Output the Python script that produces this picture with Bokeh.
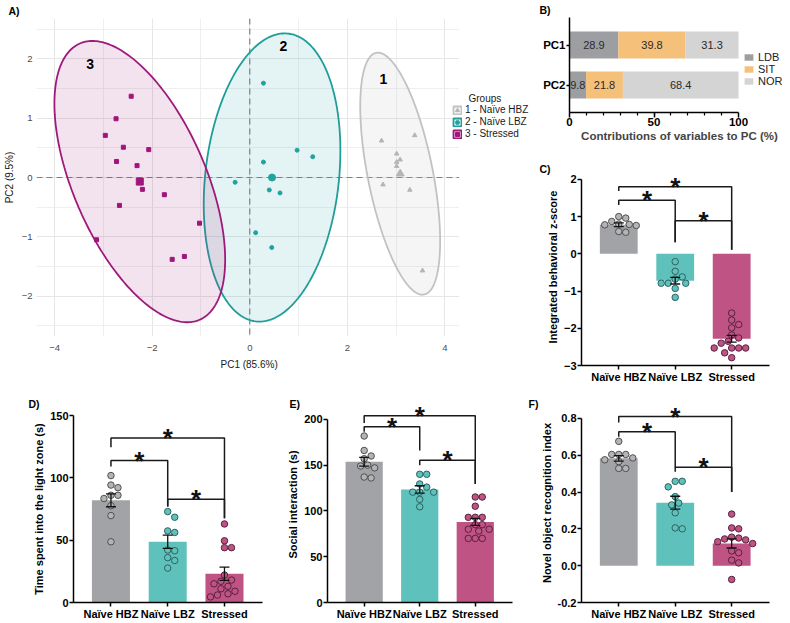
import numpy as np
from bokeh.plotting import figure
from bokeh.models import (Range1d, FixedTicker, Legend, LegendItem, Span, Title, Label,
                          ColumnDataSource, NumeralTickFormatter)
from bokeh.layouts import row, column
from bokeh.embed import file_html
from bokeh.resources import INLINE
from bokeh.core.properties import value

FONT = "Liberation Sans"

# ---------------- Panel A: PCA ----------------
pca_names = ["1 - Naïve HBZ", "2 - Naïve LBZ", "3 - Stressed"]
hbz_pc1 = [2.70, 3.38, 3.01, 3.08, 3.01, 3.01, 2.73, 3.28, 3.54]
hbz_pc2 = [0.62, 0.71, 0.40, 0.30, 0.26, 0.19, -0.12, -0.21, -1.57]
lbz_pc1 = [0.28, 0.97, 1.29, 0.28, -0.30, 0.40, 0.62, 0.12, 0.45]
lbz_pc2 = [1.59, 0.46, 0.35, 0.26, -0.08, -0.21, -0.26, -0.93, -1.18]
str_pc1 = [-2.43, -2.74, -2.96, -2.59, -2.07, -2.73, -2.31, -2.20, -1.75, -2.67, -1.03, -3.14, -1.34, -1.59]
str_pc2 = [1.37, 0.99, 0.71, 0.51, 0.47, 0.27, 0.20, -0.20, -0.29, -0.47, -0.77, -1.05, -1.33, -1.38]
# confidence-ellipse shape (var PC1, var PC2, cov) per group
ell_hbz = [0.67, 4.16, -0.93]
ell_lbz = [1.96, 5.90, 0.63]
ell_str = [3.06, 5.62, -2.30]
group_tag = ["1", "2", "3"]
group_tag_x = [2.74, 0.69, -3.27]
group_tag_y = [1.66, 2.21, 1.92]
pc1_title = "PC1 (85.6%)"
pc2_title = "PC2 (9.5%)"
pc1_lim = (-4.37, 4.29)
pc2_lim = (-2.68, 2.68)

# ---------------- Panel B: contributions ----------------
components = ["PC1", "PC2"]
contrib_vars = ["LDB", "SIT", "NOR"]
ldb = [28.9, 9.8]
sit = [39.8, 21.8]
nor = [31.3, 68.4]

# ---------------- Panels C-F ----------------
groups = ["Naïve HBZ", "Naïve LBZ", "Stressed"]

z_hbz = [1.00, 0.96, 0.87, 0.80, 0.78, 0.76, 0.79, 0.60, 0.58]
z_lbz = [-0.21, -0.47, -0.62, -0.68, -0.79, -0.79, -0.79, -0.93, -1.17]
z_str = [-1.59, -1.78, -1.90, -1.99, -2.18, -2.26, -2.35, -2.40, -2.53, -2.53, -2.53, -2.53, -2.66, -2.79]
z_mean = [0.78, -0.72, -2.28]
z_sem = [0.05, 0.09, 0.09]
z_brackets = [(0, 2, 1.80, 1.69, 0.11), (0, 1, 1.44, 1.31, 0.31), (1, 2, 0.89, 0.31, 0.11)]

light_hbz = [101.8, 94.2, 92.1, 86.0, 86.0, 83.4, 77.6, 69.7, 48.7]
light_lbz = [72.9, 68.4, 57.4, 56.2, 42.1, 41.5, 36.0, 33.7, 27.6]
light_str = [63.0, 49.5, 44.0, 44.0, 22.0, 18.0, 17.0, 15.0, 13.0, 11.0, 9.0, 7.0, 6.0, 4.5]
light_mean = [82.0, 48.7, 23.1]
light_sem = [5.2, 5.3, 5.3]
light_brackets = [(0, 2, 132.0, 124.5, 67.6), (0, 1, 113.9, 109.0, 77.1), (1, 2, 82.9, 77.1, 67.6)]

social_hbz = [181.8, 166.0, 160.0, 157.0, 150.0, 149.0, 147.0, 137.0, 136.0]
social_lbz = [140.0, 140.0, 129.4, 126.0, 120.5, 120.5, 120.5, 112.6, 104.5]
social_str = [115.2, 115.2, 105.1, 93.0, 93.0, 93.0, 85.0, 85.0, 80.0, 80.0, 78.0, 70.0, 70.0, 70.0]
social_mean = [153.7, 123.5, 88.0]
social_sem = [4.8, 4.0, 3.8]
social_brackets = [(0, 2, 204.0, 196.0, 129.4), (0, 1, 191.8, 186.5, 166.0), (1, 2, 155.4, 150.0, 129.4)]

nor_hbz = [0.675, 0.604, 0.604, 0.604, 0.585, 0.575, 0.565, 0.528, 0.528]
nor_lbz = [0.458, 0.458, 0.428, 0.375, 0.34, 0.33, 0.287, 0.205, 0.2]
nor_str = [0.28, 0.205, 0.2, 0.155, 0.15, 0.145, 0.13, 0.12, 0.14, 0.08, 0.07, 0.03, 0.015, -0.075]
nor_mean = [0.583, 0.342, 0.121]
nor_sem = [0.015, 0.035, 0.025]
nor_brackets = [(0, 2, 0.81, 0.777, 0.40), (0, 1, 0.727, 0.70, 0.534), (1, 2, 0.534, 0.51, 0.40)]

# ---------------- styles ----------------
A_LINE = ["#C2C2C2", "#1F9E99", "#9E1A7A"]
A_PT = ["#B5B5B5", "#1FA39D", "#A0157B"]
A_MARK = ["triangle", "circle", "square"]
BAR_COL = ["#A2A3A6", "#5FC1BC", "#BE5384"]
DOT_FILL = ["#B4B4B7", "#5FC1BC", "#BE5384"]
DOT_LINE = ["#505050", "#2C6461", "#5A2140"]
CONTRIB_COL = ["#9D9EA2", "#F5C07A", "#D4D4D4"]


def letter(p, text, offset, standoff, valign):
    p.add_layout(Title(text=text, align="left", offset=offset, standoff=standoff,
                       vertical_align=valign, text_font=FONT, text_font_style="bold",
                       text_font_size="10.5px", text_color="black"), "above")


def ellipse_xy(cx, cy, shape, n=240):
    sxx, syy, sxy = shape
    L = np.linalg.cholesky(np.array([[sxx, sxy], [sxy, syy]]))
    t = np.linspace(0, 2 * np.pi, n)
    e = L @ np.vstack([np.cos(t), np.sin(t)])
    return cx + e[0], cy + e[1]


# ================= Panel A =================
A_W, A_L, A_FW = 538, 32, 426
a_scale = A_FW / (pc1_lim[1] - pc1_lim[0])
a_xend = pc1_lim[0] + (A_W - A_L) / a_scale      # frame also hosts the legend on the right
pA = figure(width=A_W, height=385, x_range=Range1d(pc1_lim[0], a_xend), y_range=Range1d(*pc2_lim),
            min_border_left=A_L, min_border_right=0, min_border_top=18, min_border_bottom=49,
            output_backend="svg", toolbar_location=None, frame_align=False)
pA.outline_line_color = None

pA.xaxis.ticker = FixedTicker(ticks=[-4, -2, 0, 2, 4], minor_ticks=[-3, -1, 1, 3])
pA.yaxis.ticker = FixedTicker(ticks=[-2, -1, 0, 1, 2], minor_ticks=[-2.5, -1.5, -0.5, 0.5, 1.5, 2.5])
pA.xaxis.major_label_overrides = {-4: "−4", -2: "−2", 0: "0", 2: "2", 4: "4"}
pA.yaxis.major_label_overrides = {-2: "−2", -1: "−1", 0: "0", 1: "1", 2: "2"}
pA.xaxis.bounds = pc1_lim
for g in (pA.xgrid, pA.ygrid):
    g.grid_line_color = "#E6E6E6"
    g.grid_line_width = 1
    g.minor_grid_line_color = "#EBEBEB"
    g.minor_grid_line_width = 0.8
for ax in (pA.xaxis, pA.yaxis):
    ax.axis_line_color = None
    ax.major_tick_line_color = None
    ax.minor_tick_line_color = None
    ax.major_tick_out = 0
    ax.major_tick_in = 0
    ax.minor_tick_out = 0
    ax.major_label_text_font = FONT
    ax.major_label_text_font_size = "9.5px"
    ax.major_label_text_color = "#4D4D4D"
    ax.axis_label_text_font = FONT
    ax.axis_label_text_font_size = "10px"
    ax.axis_label_text_font_style = "normal"
    ax.axis_label_text_color = "#1A1A1A"
pA.yaxis.axis_label = pc2_title
pA.xaxis.major_label_standoff = 8
pA.yaxis.major_label_standoff = 4
pA.yaxis.axis_label_standoff = 4
# x title centred under the panel area (not under the legend strip)
pA.add_layout(Title(text=pc1_title, align="left", offset=184, standoff=10, vertical_align="top",
                    text_font=FONT, text_font_size="10px", text_font_style="normal",
                    text_color="#1A1A1A"), "below")

pA.add_layout(Span(location=0, dimension="height", line_color="#808080", line_dash="6 4",
                   line_width=1.2, level="underlay"))
pA.add_layout(Span(location=0, dimension="width", line_color="#808080", line_dash="6 4",
                   line_width=1.2, level="underlay"))
# blank strip right of the panel area (legend zone)
pA.quad(left=[pc1_lim[1]], right=[a_xend], bottom=[pc2_lim[0]], top=[pc2_lim[1]],
        fill_color="white", line_color=None)

pc1_sets = [hbz_pc1, lbz_pc1, str_pc1]
pc2_sets = [hbz_pc2, lbz_pc2, str_pc2]
shapes = [ell_hbz, ell_lbz, ell_str]
fill_alpha = [0.16, 0.12, 0.12]
legend_items = []
for k in range(3):
    x = np.array(pc1_sets[k]); y = np.array(pc2_sets[k])
    cx, cy = x.mean(), y.mean()
    ex, ey = ellipse_xy(cx, cy, shapes[k])
    r_patch = pA.patch(ex, ey, fill_color=A_LINE[k], fill_alpha=fill_alpha[k],
                       line_color=A_LINE[k], line_width=1.8)
    r_pts = pA.scatter(x, y, marker=A_MARK[k], size=4.5 if k == 0 else 4,
                       fill_color=A_PT[k], line_color=A_PT[k])
    pA.scatter([cx], [cy], marker=A_MARK[k], size=8 if k == 0 else 7,
               fill_color=A_PT[k], line_color=A_PT[k])
    legend_items.append(LegendItem(label=pca_names[k], renderers=[r_patch, r_pts]))

pA.text(x=group_tag_x, y=group_tag_y, text=group_tag, text_font=value(FONT), text_font_style="bold",
        text_font_size="14px", text_align="center", text_baseline="middle", text_color="black")

legA = Legend(items=legend_items, location=(416, 197), padding=0, margin=0, spacing=1,
              glyph_width=10, glyph_height=10, label_height=10, label_standoff=3,
              label_text_font=FONT, label_text_font_size="10px", label_text_color="#1A1A1A",
              border_line_color=None, background_fill_alpha=0)
pA.add_layout(legA)
pA.add_layout(Label(x=432, y=238, x_units="screen", y_units="screen", text="Groups",
                    text_font=FONT, text_font_size="10px", text_color="#1A1A1A",
                    text_baseline="middle", text_align="left"))
letter(pA, "A)", -28, 0, "top")

# ================= Panel B =================
B_W, B_L, B_FW = 251, 31, 169
b_xend = 100 * (B_W - B_L) / B_FW
pB = figure(width=B_W, height=148, x_range=Range1d(0, b_xend), y_range=Range1d(-0.6875, 1.6875),
            min_border_left=B_L, min_border_right=0, min_border_top=17, min_border_bottom=36,
            output_backend="svg", toolbar_location=None, frame_align=False)
pB.outline_line_color = None
pB.grid.visible = False
pos = [len(components) - 1 - i for i in range(len(components))]
srcB = ColumnDataSource(dict(pos=pos, LDB=ldb, SIT=sit, NOR=nor))
rsB = pB.hbar_stack(contrib_vars, y="pos", height=0.675, fill_color=CONTRIB_COL, line_color=None, source=srcB)
vals = np.array([ldb, sit, nor])
mids = np.cumsum(vals, axis=0) - vals / 2
tx, ty, tt = [], [], []
for vi in range(vals.shape[0]):
    for ci in range(vals.shape[1]):
        tx.append(mids[vi, ci]); ty.append(pos[ci]); tt.append(f"{vals[vi, ci]:.1f}")
pB.text(x=tx, y=ty, text=tt, text_font=value(FONT), text_font_size="11px", text_color="#2A2A2A",
        text_align="center", text_baseline="middle")
legB = Legend(items=[LegendItem(label=v, renderers=[r]) for v, r in zip(contrib_vars, rsB)],
              location=(174, 25), padding=0, margin=0, spacing=0, glyph_width=11, glyph_height=8,
              label_height=10, label_standoff=4, label_text_font=FONT, label_text_font_size="11px",
              label_text_color="#222222", border_line_color=None, background_fill_alpha=0)
pB.add_layout(legB)
pB.xaxis.ticker = FixedTicker(ticks=[0, 50, 100], minor_ticks=list(range(10, 100, 10)))
pB.xaxis.bounds = (0, 100)
pB.yaxis.ticker = FixedTicker(ticks=pos)
pB.yaxis.major_label_overrides = {p_: c for p_, c in zip(pos, components)}
for ax in (pB.xaxis, pB.yaxis):
    ax.axis_line_color = "black"; ax.axis_line_width = 1.5
    ax.major_tick_line_color = "black"; ax.major_tick_line_width = 1.5
    ax.major_tick_in = 0
    ax.major_label_text_font = FONT; ax.major_label_text_font_style = "bold"
    ax.major_label_text_font_size = "11.5px"; ax.major_label_text_color = "black"
    ax.axis_label_text_font = FONT; ax.axis_label_text_font_style = "bold"
    ax.axis_label_text_font_size = "11.5px"
pB.xaxis.major_tick_out = 5
pB.xaxis.minor_tick_out = 3; pB.xaxis.minor_tick_in = 0
pB.xaxis.minor_tick_line_color = "black"; pB.xaxis.minor_tick_line_width = 1.2
pB.yaxis.minor_tick_line_color = None
pB.yaxis.major_tick_out = 3
pB.xaxis.major_label_standoff = 0
pB.yaxis.major_label_standoff = 1
pB.xaxis.axis_label = "Contributions of variables to PC (%)"
pB.xaxis.axis_label_standoff = 1
letter(pB, "B)", -30, 0, "top")


# ================= Bar panels =================
def swarm_offsets(vals, px_x, px_y, d=7.0):
    vals = np.asarray(vals, dtype=float)
    offs = np.zeros(len(vals))
    placed = []
    cands = [0.0]
    for m in range(1, 20):
        cands += [m * d / 2, -m * d / 2]
    for i in np.argsort(-vals, kind="stable"):
        yp = vals[i] * px_y
        for c in cands:
            if all((c - a) ** 2 + (yp - b) ** 2 >= (d * 0.97) ** 2 for a, b in placed):
                break
        placed.append((c, yp))
        offs[i] = c / px_x
    return offs


def bar_panel(W, H, L, R, T, Bm, axis_lim, head_px, yticks, means, sems, pts, brackets, ylabel,
              let, let_off, let_standoff, fmt=None):
    # axis_lim: value span of the drawn axis; head_px: free frame space above its top (for brackets)
    xr = (-0.66, 2.67)
    fw = W - L - R; fh = H - T - Bm
    y0, ytop = axis_lim
    px_y = (fh - head_px) / (ytop - y0)
    y1 = y0 + fh / px_y
    p = figure(width=W, height=H, x_range=Range1d(*xr), y_range=Range1d(y0, y1),
               min_border_left=L, min_border_right=R, min_border_top=T, min_border_bottom=Bm,
               output_backend="svg", toolbar_location=None, frame_align=False)
    p.outline_line_color = None
    p.grid.visible = False
    px_x = fw / (xr[1] - xr[0])
    xs = np.arange(len(groups))
    means = np.array(means); sems = np.array(sems)
    p.vbar(x=xs, top=means, bottom=0, width=0.67, fill_color=BAR_COL, line_color=None)
    for k in range(len(groups)):
        off = swarm_offsets(pts[k], px_x, px_y)
        p.scatter(xs[k] + off, pts[k], size=6.5, fill_color=DOT_FILL[k], line_color=DOT_LINE[k],
                  line_width=1)
    p.segment(x0=xs, y0=means - sems, x1=xs, y1=means + sems, line_color="#111111", line_width=1.3)
    p.scatter(np.concatenate([xs, xs]), np.concatenate([means + sems, means - sems]), marker="dash",
              size=10, line_color="#111111", line_width=1.3)
    bx, by, sx, sy = [], [], [], []
    for (i, j, h, li, lj) in brackets:
        bx.append([i, i, j, j]); by.append([li, h, h, lj])
        sx.append((i + j) / 2); sy.append(h)
    p.multi_line(bx, by, line_color="#1A1A1A", line_width=1.5)
    p.text(x=sx, y=sy, text=["*"] * len(sx), text_font=value(FONT), text_font_style="bold",
           text_font_size="26px", text_align="center", text_baseline="alphabetic", y_offset=0,
           text_color="#111111")
    p.xaxis.ticker = FixedTicker(ticks=list(xs))
    p.xaxis.major_label_overrides = {int(i): g for i, g in zip(xs, groups)}
    p.yaxis.ticker = FixedTicker(ticks=yticks)
    p.yaxis.bounds = axis_lim
    if fmt:
        p.yaxis.formatter = NumeralTickFormatter(format=fmt)
    for ax in (p.xaxis, p.yaxis):
        ax.axis_line_color = "black"; ax.axis_line_width = 1.5
        ax.major_tick_line_color = "black"; ax.major_tick_line_width = 1.5
        ax.major_tick_out = 4; ax.major_tick_in = 0
        ax.minor_tick_line_color = None
        ax.major_label_text_font = FONT; ax.major_label_text_font_style = "bold"
        ax.major_label_text_font_size = "11px"; ax.major_label_text_color = "black"
        ax.major_label_standoff = 1
        ax.axis_label_text_font = FONT; ax.axis_label_text_font_style = "bold"
        ax.axis_label_text_font_size = "11px"; ax.axis_label_text_color = "black"
    p.yaxis.axis_label = ylabel
    p.yaxis.axis_label_standoff = 2
    letter(p, let, let_off, let_standoff, "bottom")
    return p


pC = bar_panel(251, 237, 43, 20, 20, 18, (-3, 2), 11, [-3, -2, -1, 0, 1, 2], z_mean, z_sem,
               [z_hbz, z_lbz, z_str], z_brackets, "Integrated behavioral z-score", "C)", -42, -13)
pD = bar_panel(284, 237, 73, 22, 30, 18, (0, 150), 0, [0, 50, 100, 150], light_mean, light_sem,
               [light_hbz, light_lbz, light_str], light_brackets, "Time spent into the light zone (s)",
               "D)", -45, 11)
pE = bar_panel(240, 237, 42, 12, 18, 18, (0, 200), 16, [0, 50, 100, 150, 200], social_mean, social_sem,
               [social_hbz, social_lbz, social_str], social_brackets, "Social interaction  (s)",
               "E)", -38, -13)
pF = bar_panel(265, 237, 57, 20, 18, 18, (-0.2, 0.8), 15, [-0.2, 0.0, 0.2, 0.4, 0.6, 0.8], nor_mean, nor_sem,
               [nor_hbz, nor_lbz, nor_str], nor_brackets, "Novel object recognition index",
               "F)", -53, -13, fmt="0.0")

layout = column(row(pA, column(pB, pC)), row(pD, pE, pF))
open("out.html", "w", encoding="utf-8").write(file_html(layout, INLINE))
